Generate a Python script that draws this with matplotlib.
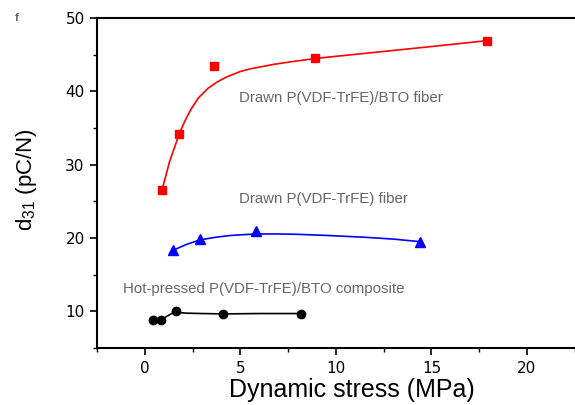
import numpy as np
import matplotlib
matplotlib.use("Agg")
import matplotlib.pyplot as plt
from matplotlib.ticker import MultipleLocator

plt.rcParams['font.family'] = ['Liberation Sans', 'DejaVu Sans']
plt.rcParams['mathtext.fontset'] = 'custom'
plt.rcParams['mathtext.rm'] = 'Liberation Sans'
plt.rcParams['mathtext.it'] = 'Liberation Sans:italic'

# measured points
bto_fiber_x = [0.9, 1.8, 3.6, 8.9, 17.9]
bto_fiber_y = [26.6, 34.2, 43.4, 44.6, 46.9]
fiber_x = [1.45, 2.9, 5.8, 14.4]
fiber_y = [18.3, 19.8, 20.9, 19.5]
hot_x = [0.4, 0.85, 1.65, 4.1, 8.15]
hot_y = [8.8, 8.8, 10.0, 9.6, 9.7]

# fitted curves
bto_fit_x = [0.9, 1.3, 1.8, 2.1, 2.4, 2.8, 3.3, 3.8, 4.2, 4.6, 5.0, 5.5, 6.0, 6.8, 8.0, 9.0, 12.0, 15.0, 17.9]
bto_fit_y = [26.6, 30.5, 34.2, 36.0, 37.5, 39.1, 40.4, 41.3, 41.85, 42.3, 42.7, 43.05, 43.3, 43.7, 44.15, 44.5, 45.3, 46.1, 46.9]
fiber_fit_x = [1.45, 2.2, 2.9, 3.7, 4.5, 5.8, 7.0, 8.0, 9.5, 11.5, 13.0, 14.4]
fiber_fit_y = [18.3, 19.15, 19.75, 20.1, 20.35, 20.55, 20.55, 20.5, 20.35, 20.1, 19.85, 19.5]
hot_fit_x = [0.4, 0.85, 1.1, 1.4, 1.65, 2.2, 3.0, 4.1, 6.0, 8.15]
hot_fit_y = [8.8, 8.8, 9.25, 9.7, 9.85, 9.75, 9.7, 9.65, 9.7, 9.7]

labels = ["Drawn P(VDF-TrFE)/BTO fiber", "Drawn P(VDF-TrFE) fiber",
          "Hot-pressed P(VDF-TrFE)/BTO composite"]

fig = plt.figure(figsize=(5.75, 4.05), dpi=100)
ax = fig.add_axes([0.169, 0.1407, 0.8305, 0.815])

ax.plot(bto_fit_x, bto_fit_y, color='#ff0000', lw=1.2)
ax.plot(bto_fiber_x, bto_fiber_y, 's', color='#ff0000', ms=6)
ax.plot(fiber_fit_x, fiber_fit_y, color='#0000ff', lw=1.2)
ax.plot(fiber_x, fiber_y, '^', color='#0000ff', ms=7)
ax.plot(hot_fit_x, hot_fit_y, color='black', lw=1.2)
ax.plot(hot_x, hot_y, 'o', color='black', ms=6)

ax.text(4.92, 39.1, labels[0], color='#666666', fontsize=10.8, va='center')
ax.text(4.92, 25.3, labels[1], color='#666666', fontsize=10.8, va='center')
ax.text(-1.15, 13.1, labels[2], color='#666666', fontsize=10.8, va='center')

ax.set_xlim(-2.5, 22.5)
ax.set_ylim(5, 50)
ax.xaxis.set_major_locator(MultipleLocator(5))
ax.xaxis.set_minor_locator(MultipleLocator(2.5))
ax.yaxis.set_major_locator(MultipleLocator(10))
ax.yaxis.set_minor_locator(MultipleLocator(5))
ax.tick_params(which='major', length=5, width=1.2, labelsize=11, direction='out', pad=4)
ax.tick_params(which='minor', length=3, width=1.0, direction='out')
for lab in ax.get_xticklabels() + ax.get_yticklabels():
    lab.set_family('DejaVu Sans')
ax.xaxis.set_ticks_position('bottom')
ax.yaxis.set_ticks_position('left')
for s in ['left', 'bottom', 'top']:
    ax.spines[s].set_linewidth(1.5)
ax.spines['right'].set_visible(False)

ax.set_xlabel("Dynamic stress (MPa)", fontsize=18)
ax.xaxis.set_label_coords(0.534, -0.09)
ax.set_ylabel("d$_{31}$ (pC/N)", fontsize=16)
ax.yaxis.set_label_coords(-0.122, 0.51)

fig.text(0.026, 0.955, "f", color='#666666', fontsize=8, fontweight='bold', va='center')

fig.savefig("out.png", dpi=100)
